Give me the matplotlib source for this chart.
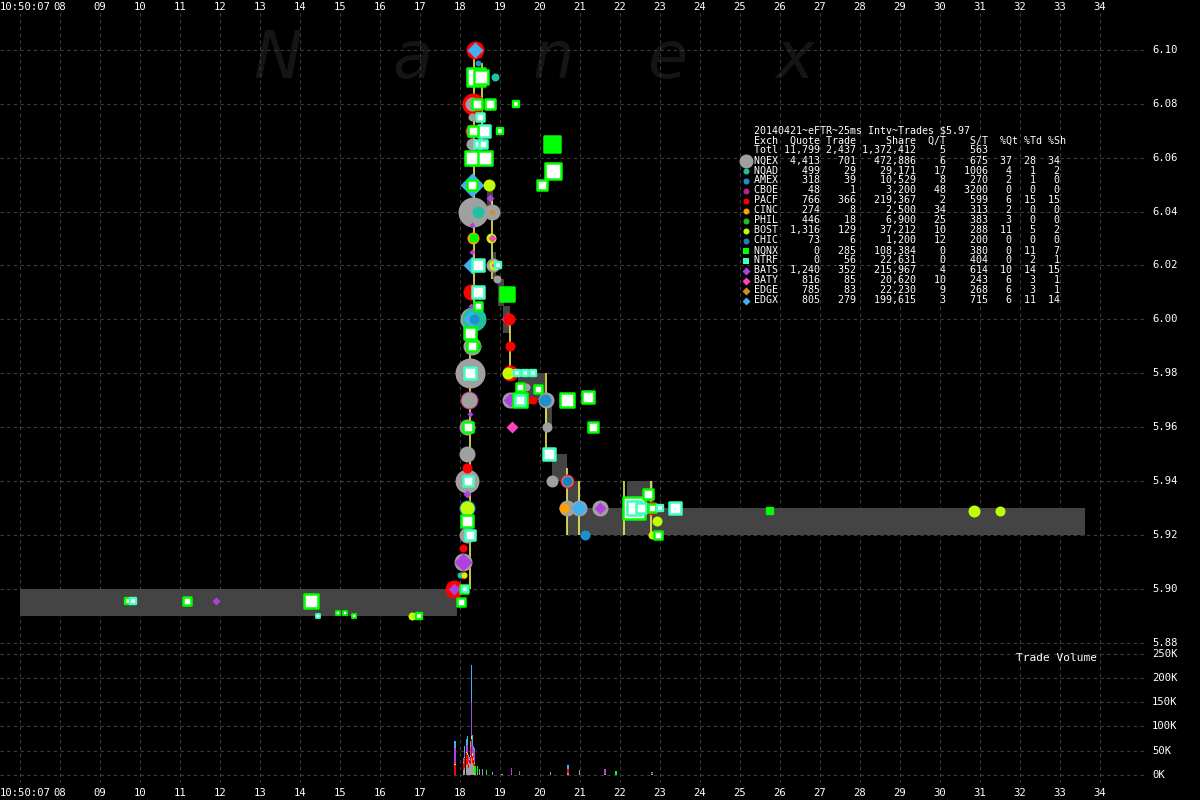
import matplotlib
matplotlib.use('Agg')
import matplotlib.pyplot as plt
from matplotlib.transforms import blended_transform_factory

# ---- exchange colours ----
C_NQEX = '#a0a0a0'
C_NQAD = '#20c0a0'
C_AMEX = '#1e90d0'
C_CBOE = '#c0208a'
C_PACF = '#ff0000'
C_CINC = '#ffa000'
C_PHIL = '#20c020'
C_BOST = '#c0ff00'
C_CHIC = '#2080c0'
C_NQNX = '#00ff00'
C_NTRF = '#40ffc0'
C_BATS = '#b040e0'
C_BATY = '#ff40c0'
C_EDGE = '#d09020'
C_EDGX = '#40b0f0'

# ---- quotes / trades : (second, price, size in px) ----
nqex_pts = [(18.30, 6.080, 7), (18.30, 6.075, 4), (18.30, 6.070, 6), (18.30, 6.065, 6), (18.30, 6.060, 8),
            (18.325, 6.040, 15), (18.80, 6.040, 8), (18.825, 6.020, 7), (18.925, 6.015, 4),
            (18.30, 6.000, 12), (18.30, 5.990, 9), (18.25, 5.980, 15), (19.65, 5.975, 4),
            (20.15, 5.970, 8), (19.25, 5.970, 8), (18.225, 5.970, 8), (18.175, 5.960, 8), (20.175, 5.960, 5),
            (18.175, 5.950, 8), (18.175, 5.940, 12), (20.30, 5.940, 6), (20.675, 5.940, 6),
            (18.175, 5.920, 8), (20.675, 5.930, 8), (20.975, 5.930, 8), (21.50, 5.930, 8),
            (18.075, 5.910, 9), (18.30, 6.050, 6)]
nqad_pts = [(18.875, 6.090, 4), (18.35, 6.000, 12), (18.45, 6.040, 6), (18.00, 5.905, 3)]
amex_pts = [(18.35, 6.000, 5), (20.125, 5.970, 6), (21.125, 5.920, 5), (18.45, 6.095, 3), (18.175, 5.930, 8)]
cboe_pts = [(18.225, 5.970, 9)]
pacf_pts = [(18.375, 6.100, 9), (18.325, 6.080, 11), (18.30, 6.070, 7), (18.575, 6.070, 7),
            (19.225, 6.000, 6), (18.275, 6.010, 8), (19.25, 5.990, 5), (19.25, 5.980, 8),
            (19.70, 5.970, 4), (19.825, 5.970, 4), (18.175, 5.945, 5), (18.075, 5.915, 4),
            (18.075, 5.905, 4), (17.85, 5.900, 9), (20.675, 5.940, 7), (22.80, 5.930, 7)]
cinc_pts = [(18.325, 6.030, 6), (20.60, 5.930, 5), (22.35, 5.930, 6)]
phil_pts = [(18.45, 5.990, 3)]
bost_pts = [(18.725, 6.050, 6), (18.775, 6.030, 5), (18.85, 6.020, 5), (18.175, 5.930, 7), (18.10, 5.905, 3),
            (22.925, 5.925, 5), (22.80, 5.920, 4), (16.80, 5.890, 4), (30.85, 5.929, 6), (31.50, 5.929, 5),
            (19.20, 5.980, 6)]
chic_pts = [(20.675, 5.940, 5)]
bats_pts = [(18.75, 6.045, 4), (18.30, 6.025, 3), (18.275, 6.005, 3), (19.20, 6.000, 7), (18.25, 5.965, 3),
            (19.25, 5.970, 7), (18.175, 5.935, 4), (18.075, 5.910, 9), (11.90, 5.8955, 4), (21.50, 5.930, 6),
            (17.85, 5.900, 6), (18.30, 6.035, 3)]
baty_pts = [(19.30, 5.960, 6), (18.80, 6.030, 4), (18.85, 6.020, 3), (20.25, 5.950, 4)]
edge_pts = [(18.80, 6.040, 3), (22.35, 5.930, 5)]
edgx_pts = [(18.375, 6.100, 8), (18.30, 6.050, 12), (18.30, 6.020, 9), (18.275, 6.000, 8),
            (20.975, 5.930, 8), (18.10, 5.900, 3)]
nqnx_pts = [(18.40, 6.090, 9), (18.525, 6.090, 7), (18.425, 6.080, 5), (18.75, 6.080, 5), (19.40, 6.080, 3),
            (18.325, 6.070, 5), (19.00, 6.070, 3), (18.30, 6.060, 7), (18.625, 6.060, 7), (20.325, 6.055, 8),
            (20.05, 6.050, 5), (18.30, 6.050, 5), (18.45, 6.005, 4), (18.25, 5.995, 6), (18.30, 5.990, 5),
            (19.50, 5.975, 4), (19.95, 5.974, 4), (19.50, 5.970, 7), (20.675, 5.970, 7), (21.20, 5.971, 6),
            (21.325, 5.960, 5), (18.20, 5.960, 5), (18.175, 5.925, 6), (22.35, 5.930, 11), (22.70, 5.935, 5),
            (22.95, 5.920, 4), (22.80, 5.930, 4), (18.025, 5.895, 4), (18.10, 5.900, 4),
            (9.70, 5.8955, 3), (11.175, 5.8955, 4), (14.275, 5.8955, 7), (14.95, 5.891, 2),
            (15.125, 5.891, 2), (15.35, 5.890, 2), (16.975, 5.890, 3)]
nqnx_solid = [(20.30, 6.065, 8), (19.175, 6.0095, 7), (25.75, 5.929, 3), (18.35, 6.030, 3)]
ntrf_pts = [(18.50, 6.075, 4), (18.60, 6.070, 6), (18.45, 6.065, 4), (18.575, 6.065, 4), (18.45, 6.020, 6),
            (18.95, 6.020, 3), (18.45, 6.010, 6), (18.25, 5.980, 6), (19.425, 5.980, 3), (19.625, 5.980, 3),
            (19.825, 5.980, 3), (19.50, 5.970, 5), (20.225, 5.950, 6), (18.20, 5.940, 5), (18.25, 5.920, 5),
            (22.35, 5.930, 7), (22.525, 5.930, 5), (23.375, 5.930, 6), (23.00, 5.930, 3), (9.825, 5.8955, 3),
            (14.45, 5.890, 2), (18.125, 5.900, 3)]

# ---- NBBO spread bands ----
band_t0 = [7.0, 18.68, 18.82, 18.95, 19.08, 19.45, 20.12, 20.30, 20.68, 21.00, 22.18, 22.83]
band_t1 = [17.93, 18.82, 18.90, 19.10, 19.25, 20.12, 20.30, 20.68, 21.00, 22.18, 22.83, 33.63]
band_lo = [5.890, 6.040, 6.015, 6.005, 5.995, 5.970, 5.960, 5.940, 5.920, 5.920, 5.920, 5.920]
band_hi = [5.900, 6.050, 6.025, 6.015, 6.005, 5.980, 5.970, 5.950, 5.940, 5.930, 5.940, 5.930]

# ---- yellow quote change lines ----
yl_t = [18.35, 18.55, 18.80, 19.25, 18.25, 20.15, 20.675, 20.975, 22.10, 22.775]
yl_lo = [6.000, 6.065, 6.015, 5.980, 5.900, 5.950, 5.920, 5.920, 5.920, 5.920]
yl_hi = [6.100, 6.095, 6.045, 6.000, 5.990, 5.980, 5.945, 5.940, 5.940, 5.940]

# ---- trade volume per 25ms interval (thousands) ----
vol_t = [9.75, 11.2, 11.9, 14.3, 15.1, 16.8, 17.875, 18.08, 18.11, 18.16, 18.18, 18.21, 18.23, 18.26, 18.28,
         18.31, 18.33, 18.36, 18.38, 18.43, 18.48, 18.56, 18.66, 18.81, 19.05, 19.28, 19.48, 20.27, 20.70,
         20.98, 21.63, 21.90, 22.80, 31.5]
vol_nqex = [0, 0, 0, 0, 0, 0, 0, 10, 15, 20, 22, 15, 25, 22, 35, 25, 20, 18, 5, 5, 4, 6, 3, 2, 3, 3, 2, 2, 5, 11, 3, 0, 2, 0]
vol_pacf = [0, 0, 0, 0, 0, 0, 20, 15, 20, 25, 20, 8, 5, 15, 40, 15, 10, 5, 0, 0, 0, 0, 0, 0, 0, 0, 0, 0, 8, 0, 0, 0, 3, 0]
vol_bost = [0, 0, 0, 0, 0, 1, 3, 2, 3, 3, 4, 2, 2, 3, 5, 5, 4, 2, 0, 0, 0, 0, 0, 0, 0, 0, 0, 0, 0, 0, 0, 0, 0, 1]
vol_bats = [0, 0, 1, 0, 0, 0, 32, 5, 8, 12, 15, 12, 3, 15, 70, 15, 20, 25, 0, 0, 0, 0, 0, 0, 0, 11, 7, 0, 0, 0, 10, 0, 0, 0]
vol_edgx = [0, 0, 0, 0, 0, 0, 15, 3, 13, 15, 20, 5, 2, 15, 76, 22, 5, 5, 0, 0, 0, 6, 0, 5, 0, 0, 0, 5, 8, 0, 0, 0, 2, 0]
vol_nqnx = [1, 1, 0, 1, 1, 0, 0, 0, 0, 0, 0, 0, 0, 0, 0, 0, 0, 0, 13, 13, 8, 0, 8, 0, 0, 0, 0, 0, 0, 0, 0, 9, 0, 0]

# ---- summary table ----
tbl_title = '20140421~eFTR~25ms Intv~Trades $5.97'
tbl_exch = ['NQEX', 'NQAD', 'AMEX', 'CBOE', 'PACF', 'CINC', 'PHIL', 'BOST', 'CHIC',
            'NQNX', 'NTRF', 'BATS', 'BATY', 'EDGE', 'EDGX']
tbl_quote = [4413, 499, 318, 48, 766, 274, 446, 1316, 73, 0, 0, 1240, 816, 785, 805]
tbl_trade = [701, 29, 39, 1, 366, 8, 18, 129, 6, 285, 56, 352, 85, 83, 279]
tbl_share = [472886, 29171, 10529, 3200, 219367, 2500, 6900, 37212, 1200, 108384, 22631, 215967, 20620, 22230, 199615]
tbl_qt = [6, 17, 8, 48, 2, 34, 25, 10, 12, 0, 0, 4, 10, 9, 3]
tbl_st = [675, 1006, 270, 3200, 599, 313, 383, 288, 200, 380, 404, 614, 243, 268, 715]
tbl_pq = [37, 4, 2, 0, 6, 2, 3, 11, 0, 0, 0, 10, 6, 6, 6]
tbl_pt = [28, 1, 1, 0, 15, 0, 0, 5, 0, 11, 2, 14, 3, 3, 11]
tbl_ps = [34, 2, 0, 0, 15, 0, 0, 2, 0, 7, 1, 15, 1, 1, 14]
tbl_colors = [C_NQEX, C_NQAD, C_AMEX, C_CBOE, C_PACF, C_CINC, C_PHIL, C_BOST, C_CHIC,
              C_NQNX, C_NTRF, C_BATS, C_BATY, C_EDGE, C_EDGX]
tbl_marks = ['o'] * 9 + ['s', 's'] + ['D'] * 4

sec_ticks = list(range(8, 35))
price_ticks = [5.88 + 0.02 * i for i in range(12)]
vol_ticks = [0, 50, 100, 150, 200, 250]

MONO = 'DejaVu Sans Mono'
GRID = '#3c3c3c'

fig = plt.figure(figsize=(12, 8), dpi=100, facecolor='black')

# background axes: time in x, pixel rows in y
bg = fig.add_axes([0, 0, 1, 1])
bg.set_xlim(6.5, 36.5)
bg.set_ylim(800, 0)
bg.set_facecolor('black')
bg.axis('off')
bg.vlines([7] + sec_ticks, 13, 782, colors=GRID, linestyles=(0, (3, 3)), linewidth=0.8, zorder=2)

# watermark
for ch, tx in zip('Nanex', [13.45, 16.8, 20.33, 23.2, 26.375]):
    bg.text(tx, 78, ch, fontsize=47, style='italic', color='#151515', ha='center', va='baseline', zorder=1)

# time labels top and bottom
for y in (7.5, 793):
    bg.text(6.5, y, '10:50:07', fontsize=7.6, family=MONO, color='white', ha='left', va='center')
    for s in sec_ticks:
        bg.text(s, y, '%02d' % s, fontsize=7.6, family=MONO, color='white', ha='center', va='center')

# price panel
ax = fig.add_axes([0, 1 - 648 / 800, 1, 628 / 800])
ax.set_xlim(6.5, 36.5)
ax.set_ylim(5.87803, 6.11106)
ax.set_facecolor('none')
ax.axis('off')
lbl = blended_transform_factory(fig.transFigure, ax.transData)
for p in price_ticks:
    ax.axhline(p, xmin=0, xmax=1147 / 1200, color=GRID, ls=(0, (3, 3)), lw=0.8, zorder=0.5)
    ax.text(1152 / 1200, p, '%.2f' % p, transform=lbl, fontsize=7.6, family=MONO,
            color='white', ha='left', va='center')

for t0, t1, lo, hi in zip(band_t0, band_t1, band_lo, band_hi):
    ax.fill_between([t0, t1], lo, hi, color='#444444', lw=0, zorder=1)

ax.vlines(yl_t, yl_lo, yl_hi, colors='#ffff50', linewidth=1.1, zorder=2)

# circles and diamonds, biggest first
round_sets = [(nqex_pts, C_NQEX, 'o'), (nqad_pts, C_NQAD, 'o'), (amex_pts, C_AMEX, 'o'),
              (cboe_pts, C_CBOE, 'o'), (pacf_pts, C_PACF, 'o'), (cinc_pts, C_CINC, 'o'),
              (phil_pts, C_PHIL, 'o'), (bost_pts, C_BOST, 'o'), (chic_pts, C_CHIC, 'o'),
              (bats_pts, C_BATS, 'D'), (baty_pts, C_BATY, 'D'), (edge_pts, C_EDGE, 'D'),
              (edgx_pts, C_EDGX, 'D')]
marks = []
for pts, col, m in round_sets:
    for t, p, r in pts:
        marks.append((r, t, p, col, m))
marks.sort(key=lambda k: -k[0])
for r, t, p, col, m in marks:
    s = (1.44 * r) ** 2
    if m == 'D':
        s = s / 2.0
    ax.scatter([t], [p], s=s, marker=m, color=col, linewidths=0, zorder=3)

# squares: white inside, coloured edge
sq = [(r, t, p, C_NQNX, 'white') for t, p, r in nqnx_pts]
sq += [(r, t, p, C_NTRF, 'white') for t, p, r in ntrf_pts]
sq += [(r, t, p, C_NQNX, C_NQNX) for t, p, r in nqnx_solid]
sq.sort(key=lambda k: -k[0])
for r, t, p, ec, fc in sq:
    ax.scatter([t], [p], s=(1.44 * r) ** 2, marker='s', facecolor=fc, edgecolor=ec,
               linewidths=min(1.8, 0.4 * r + 0.5), zorder=4)

# volume panel
vx = fig.add_axes([0, 1 - 782 / 800, 1, 134 / 800])
vx.set_xlim(6.5, 36.5)
vx.set_ylim(-14.4, 261.5)
vx.set_facecolor('none')
vx.axis('off')
vlbl = blended_transform_factory(fig.transFigure, vx.transData)
for v in vol_ticks:
    vx.axhline(v, xmin=0, xmax=1147 / 1200, color=GRID, ls=(0, (3, 3)), lw=0.8, zorder=0.5)
    vx.text(1152 / 1200, v, '%dK' % v, transform=vlbl, fontsize=7.6, family=MONO,
            color='white', ha='left', va='center')
bottom = [0.0] * len(vol_t)
for vals, col in [(vol_nqex, C_NQEX), (vol_pacf, C_PACF), (vol_bost, C_BOST),
                  (vol_nqnx, C_NQNX), (vol_bats, C_BATS), (vol_edgx, C_EDGX)]:
    vx.bar(vol_t, vals, width=0.035, bottom=bottom, color=col, lw=0, zorder=2)
    bottom = [b + v for b, v in zip(bottom, vals)]
vx.text(1097 / 1200, 240, 'Trade Volume', transform=vlbl, fontsize=8, family=MONO,
        color='white', ha='right', va='center')

# table overlay in pixel units
ov = fig.add_axes([0, 0, 1, 1])
ov.set_xlim(0, 1200)
ov.set_ylim(800, 0)
ov.set_facecolor('none')
ov.axis('off')
lines = [tbl_title,
         'Exch  Quote Trade     Share  Q/T    S/T  %Qt %Td %Sh',
         'Totl{:>7,}{:>6,}{:>10,}{:>5}{:>7}'.format(sum(tbl_quote), sum(tbl_trade), sum(tbl_share), 5, 563)]
for i in range(len(tbl_exch)):
    lines.append('{:<4}{:>7,}{:>6,}{:>10,}{:>5}{:>7}{:>4}{:>4}{:>4}'.format(
        tbl_exch[i], tbl_quote[i], tbl_trade[i], tbl_share[i], tbl_qt[i], tbl_st[i],
        tbl_pq[i], tbl_pt[i], tbl_ps[i]))
for i, ln in enumerate(lines):
    ov.text(754, 130.5 + 10 * i, ln, fontsize=7.2, family=MONO, color='white', ha='left', va='center')
for i in range(len(tbl_exch)):
    y = 160.5 + 10 * i
    if i == 0:
        ov.scatter([746], [y], s=(1.44 * 7) ** 2, marker='o', color=tbl_colors[i], lw=0)
    elif tbl_marks[i] == 'D':
        ov.scatter([746], [y], s=(1.44 * 4) ** 2 / 2, marker='D', color=tbl_colors[i], lw=0)
    else:
        ov.scatter([746], [y], s=(1.44 * 3) ** 2, marker=tbl_marks[i], color=tbl_colors[i], lw=0)

fig.savefig('out.png', dpi=100, facecolor='black')
